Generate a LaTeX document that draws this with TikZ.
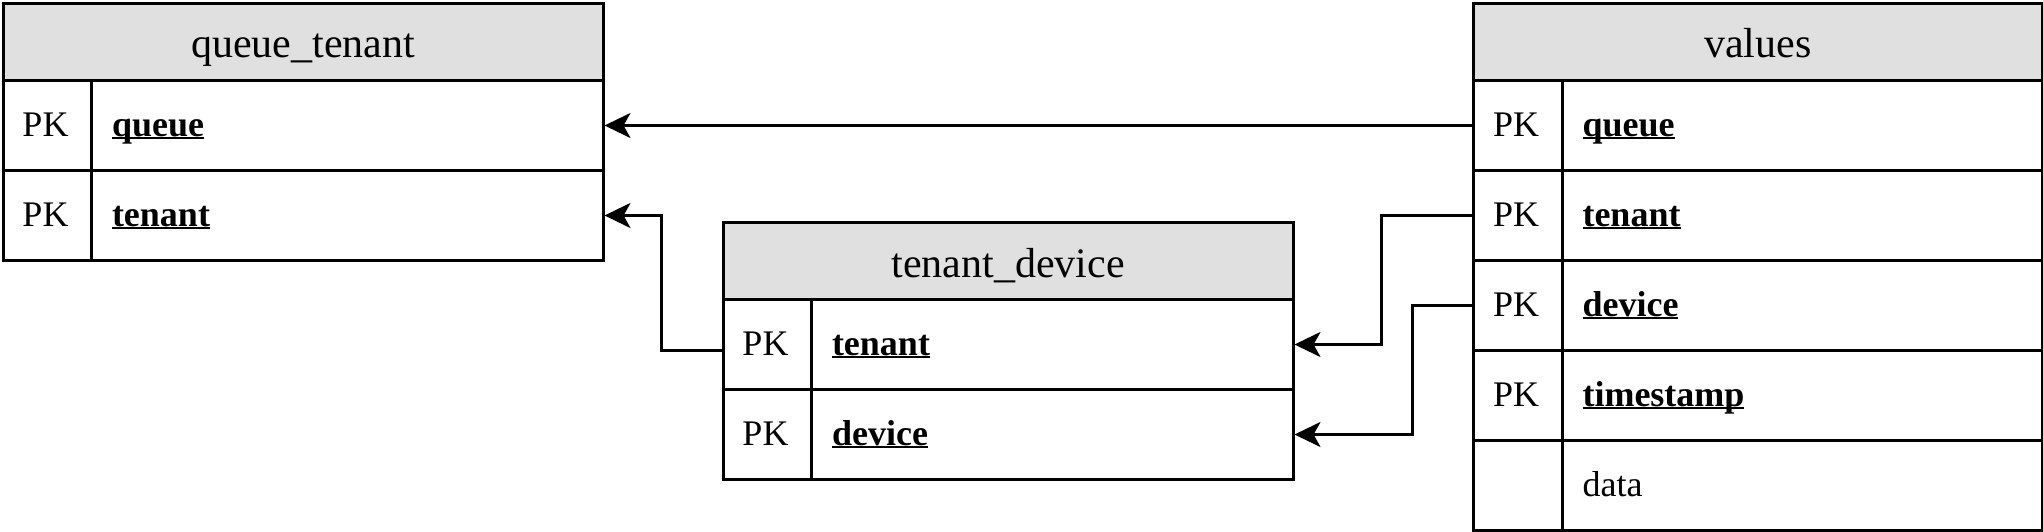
\documentclass[tikz,border=0pt]{standalone}
\usepackage{fontspec}
\setmainfont{Liberation Serif}
\usetikzlibrary{arrows.meta,calc}
\definecolor{hdrgray}{HTML}{E0E0E0}
\newcommand\fieldul[1]{\setbox0\hbox{#1}\rlap{\rule[-0.075em]{\wd0}{0.055em}}\box0}
\begin{document}
\begin{tikzpicture}[x=1pt,y=-1pt,line width=3pt,
  hdr/.style={draw=black,fill=hdrgray,line width=3pt,inner sep=0pt,anchor=north west,
    minimum height=77.5pt,font=\fontsize{42}{50}\selectfont,text height=36pt,text depth=4pt},
  rowbox/.style={draw=black,line width=3pt,inner sep=0pt,anchor=north west,minimum height=90pt},
  pktxt/.style={inner sep=0pt,font=\fontsize{36}{43}\selectfont,text height=30pt,text depth=9pt},
  fldtxt/.style={inner sep=0pt,anchor=west,font=\fontsize{36}{43}\selectfont,text height=30pt,text depth=9pt},
  divider/.style={draw=black,line width=3pt},
  conn/.style={draw=black,line width=3pt,-{Stealth[length=26pt,width=25pt,inset=7pt]}}]
\useasboundingbox (0,0) rectangle (2043,531);

% ---------- queue_tenant ----------
\node[hdr,minimum width=600] (qt) at (1.5,1.5) {queue\_tenant};
\node[rowbox,minimum width=600] (qt-queue) at (1.5,79) {};
\node[rowbox,minimum width=600] (qt-tenant) at (1.5,169) {};
\draw[divider] (91.5,79) -- (91.5,259);
\node[pktxt] (qt-queue-pk) at ($(qt-queue.west)+(44,0)$) {PK};
\node[fldtxt] (qt-queue-f) at ($(qt-queue.west)+(109,0)$) {\fieldul{\textbf{queue}}};
\node[pktxt] (qt-tenant-pk) at ($(qt-tenant.west)+(44,0)$) {PK};
\node[fldtxt] (qt-tenant-f) at ($(qt-tenant.west)+(109,0)$) {\fieldul{\textbf{tenant}}};

% ---------- tenant_device ----------
\node[hdr,minimum width=570,minimum height=77] (td) at (721.5,221) {tenant\_device};
\node[rowbox,minimum width=570] (td-tenant) at (721.5,298) {};
\node[rowbox,minimum width=570] (td-device) at (721.5,388) {};
\draw[divider] (811.5,298) -- (811.5,478);
\node[pktxt] (td-tenant-pk) at ($(td-tenant.west)+(44,0)$) {PK};
\node[fldtxt] (td-tenant-f) at ($(td-tenant.west)+(109,0)$) {\fieldul{\textbf{tenant}}};
\node[pktxt] (td-device-pk) at ($(td-device.west)+(44,0)$) {PK};
\node[fldtxt] (td-device-f) at ($(td-device.west)+(109,0)$) {\fieldul{\textbf{device}}};

% ---------- values ----------
\node[hdr,minimum width=568.5] (v) at (1472,1.5) {values};
\node[rowbox,minimum width=568.5] (v-queue) at (1472,79) {};
\node[rowbox,minimum width=568.5] (v-tenant) at (1472,169) {};
\node[rowbox,minimum width=568.5] (v-device) at (1472,259) {};
\node[rowbox,minimum width=568.5] (v-ts) at (1472,349) {};
\node[rowbox,minimum width=568.5] (v-data) at (1472,439) {};
\draw[divider] (1562,79) -- (1562,529);
\node[pktxt] (v-queue-pk) at ($(v-queue.west)+(44,0)$) {PK};
\node[fldtxt] (v-queue-f) at ($(v-queue.west)+(109,0)$) {\fieldul{\textbf{queue}}};
\node[pktxt] (v-tenant-pk) at ($(v-tenant.west)+(44,0)$) {PK};
\node[fldtxt] (v-tenant-f) at ($(v-tenant.west)+(109,0)$) {\fieldul{\textbf{tenant}}};
\node[pktxt] (v-device-pk) at ($(v-device.west)+(44,0)$) {PK};
\node[fldtxt] (v-device-f) at ($(v-device.west)+(109,0)$) {\fieldul{\textbf{device}}};
\node[pktxt] (v-ts-pk) at ($(v-ts.west)+(44,0)$) {PK};
\node[fldtxt] (v-ts-f) at ($(v-ts.west)+(109,0)$) {\fieldul{\textbf{timestamp}}};
\node[fldtxt] (v-data-f) at ($(v-data.west)+(109,0)$) {data};

% ---------- connectors ----------
\draw[conn] (v-queue.west) -- (qt-queue.east);
\draw[conn] (v-tenant.west) -- ++(-91,0) |- (td-tenant.east);
\draw[conn] (v-device.west) -- ++(-60,0) |- (td-device.east);
\draw[conn] ($(td-tenant.west)+(0,6)$) -- ++(-60,0) |- (qt-tenant.east);
\end{tikzpicture}
\end{document}
